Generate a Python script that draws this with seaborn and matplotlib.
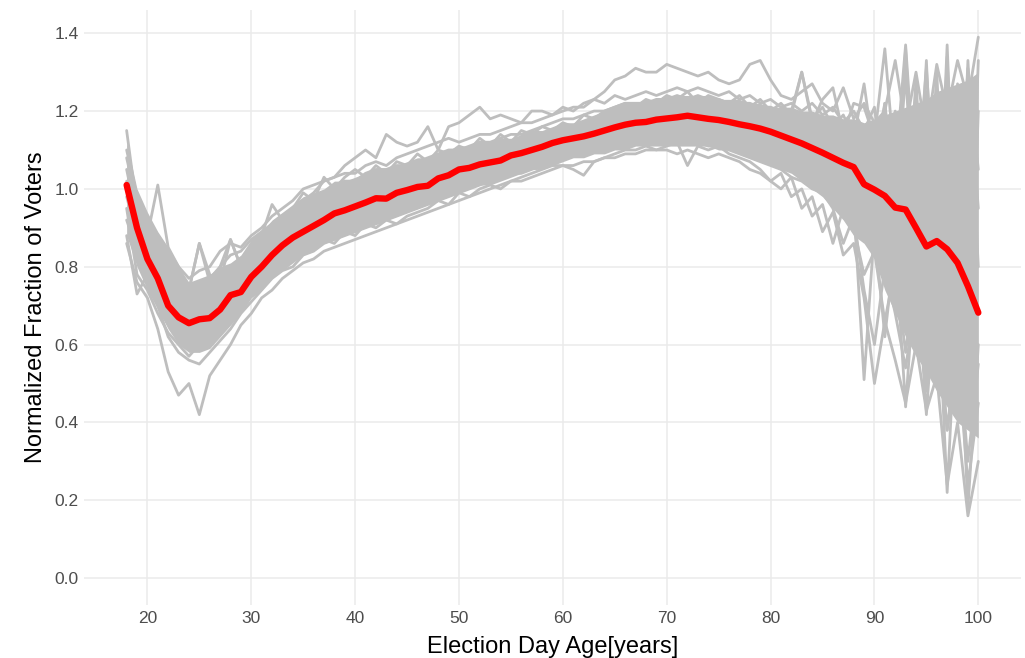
import numpy as np
import pandas as pd
import matplotlib
matplotlib.use("Agg")
import matplotlib.pyplot as plt
import seaborn as sns

ages = list(range(18, 101))

mean_curve = [
    1.01, 0.90, 0.82, 0.77, 0.70, 0.67, 0.655, 0.665, 0.668, 0.69,
    0.727, 0.735, 0.774, 0.80, 0.83, 0.855, 0.875, 0.89, 0.905, 0.92,
    0.937, 0.945, 0.955, 0.965, 0.976, 0.975, 0.99, 0.997, 1.005, 1.008,
    1.027, 1.035, 1.05, 1.054, 1.063, 1.068, 1.073, 1.086, 1.092, 1.10,
    1.108, 1.118, 1.125, 1.13, 1.135, 1.142, 1.15, 1.158, 1.165, 1.17,
    1.172, 1.178, 1.181, 1.184, 1.188, 1.184, 1.18, 1.177, 1.172, 1.166,
    1.161, 1.155, 1.147, 1.137, 1.127, 1.117, 1.105, 1.093, 1.08, 1.067,
    1.056, 1.012, 0.998, 0.982, 0.952, 0.947, 0.90, 0.852, 0.866, 0.845,
    0.81, 0.75, 0.682]

core_hi = [
    1.12, 1.00, 0.94, 0.89, 0.85, 0.80, 0.76, 0.77, 0.78, 0.80,
    0.81, 0.83, 0.87, 0.89, 0.92, 0.94, 0.96, 0.98, 0.99, 1.00,
    1.02, 1.02, 1.03, 1.04, 1.05, 1.05, 1.06, 1.07, 1.08, 1.08,
    1.09, 1.10, 1.11, 1.11, 1.12, 1.12, 1.13, 1.13, 1.14, 1.15,
    1.15, 1.16, 1.17, 1.17, 1.18, 1.19, 1.20, 1.21, 1.22, 1.22,
    1.23, 1.23, 1.24, 1.24, 1.24, 1.24, 1.24, 1.23, 1.23, 1.23,
    1.22, 1.22, 1.21, 1.21, 1.21, 1.20, 1.20, 1.19, 1.19, 1.18,
    1.18, 1.17, 1.18, 1.19, 1.20, 1.21, 1.22, 1.23, 1.25, 1.26,
    1.27, 1.28, 1.30]

core_lo = [
    0.88, 0.80, 0.74, 0.69, 0.64, 0.60, 0.58, 0.58, 0.59, 0.62,
    0.65, 0.68, 0.72, 0.74, 0.77, 0.79, 0.81, 0.83, 0.84, 0.86,
    0.87, 0.88, 0.89, 0.90, 0.91, 0.92, 0.93, 0.94, 0.95, 0.96,
    0.97, 0.98, 0.99, 1.00, 1.01, 1.01, 1.02, 1.03, 1.04, 1.05,
    1.05, 1.06, 1.07, 1.08, 1.08, 1.09, 1.09, 1.10, 1.10, 1.11,
    1.11, 1.11, 1.11, 1.11, 1.11, 1.11, 1.11, 1.10, 1.10, 1.09,
    1.08, 1.07, 1.06, 1.05, 1.04, 1.02, 1.00, 0.98, 0.95, 0.92,
    0.88, 0.86, 0.82, 0.74, 0.68, 0.62, 0.57, 0.53, 0.48, 0.44,
    0.40, 0.38, 0.36]

g1 = [1.15, 0.95, 0.88, 1.01, 0.85, 0.80, 0.74, 0.86, 0.78, 0.76,
      0.87, 0.80, 0.85, 0.88, 0.96, 0.92, 0.95, 0.99, 0.97, 1.03,
      1.00, 1.03, 1.05, 1.03, 1.06, 1.04, 1.07, 1.06, 1.09, 1.07,
      1.10, 1.09, 1.11, 1.10, 1.13, 1.11, 1.14, 1.12, 1.15, 1.14,
      1.16, 1.15, 1.17, 1.16, 1.19, 1.18, 1.20, 1.21, 1.22, 1.21,
      1.23, 1.22, 1.24, 1.23, 1.25, 1.22, 1.24, 1.23, 1.22, 1.24,
      1.21, 1.23, 1.20, 1.22, 1.19, 1.30, 1.18, 1.21, 1.16, 1.19,
      1.13, 1.27, 1.08, 1.22, 0.95, 1.36, 0.88, 1.25, 0.70, 1.34,
      0.62, 1.30, 0.95]
g2 = [1.05, 0.92, 0.86, 0.82, 0.80, 0.76, 0.72, 0.75, 0.77, 0.80,
      0.83, 0.84, 0.87, 0.89, 0.91, 0.93, 0.95, 0.97, 0.99, 1.02,
      1.03, 1.06, 1.08, 1.10, 1.08, 1.14, 1.12, 1.11, 1.12, 1.16,
      1.10, 1.16, 1.17, 1.19, 1.21, 1.18, 1.19, 1.18, 1.17, 1.20,
      1.20, 1.19, 1.21, 1.20, 1.22, 1.23, 1.22, 1.24, 1.23, 1.24,
      1.25, 1.24, 1.25, 1.26, 1.25, 1.26, 1.25, 1.24, 1.25, 1.23,
      1.24, 1.22, 1.23, 1.21, 1.22, 1.20, 1.22, 1.19, 1.21, 1.17,
      1.20, 1.15, 1.21, 0.98, 1.15, 0.88, 1.28, 0.80, 1.18, 0.55,
      1.25, 0.45, 1.20]
g3 = [1.10, 0.98, 0.92, 0.88, 0.84, 0.80, 0.77, 0.79, 0.80, 0.84,
      0.86, 0.85, 0.88, 0.90, 0.93, 0.95, 0.97, 1.00, 1.01, 1.02,
      1.03, 1.04, 1.04, 1.06, 1.07, 1.06, 1.08, 1.09, 1.10, 1.11,
      1.12, 1.13, 1.12, 1.13, 1.14, 1.14, 1.15, 1.16, 1.17, 1.17,
      1.18, 1.19, 1.20, 1.21, 1.21, 1.23, 1.25, 1.28, 1.29, 1.31,
      1.30, 1.30, 1.32, 1.31, 1.30, 1.29, 1.30, 1.28, 1.27, 1.28,
      1.32, 1.33, 1.28, 1.24, 1.23, 1.25, 1.27, 1.22, 1.20, 1.26,
      1.18, 1.22, 1.17, 1.20, 1.33, 1.16, 1.30, 1.14, 1.32, 1.20,
      1.33, 1.23, 1.39]
g4 = [0.88, 0.73, 0.78, 0.72, 0.66, 0.62, 0.60, 0.62, 0.60, 0.63,
      0.66, 0.70, 0.73, 0.75, 0.78, 0.80, 0.82, 0.84, 0.85, 0.87,
      0.86, 0.89, 0.88, 0.91, 0.90, 0.92, 0.91, 0.93, 0.94, 0.95,
      0.97, 0.96, 0.99, 0.98, 1.00, 1.01, 1.00, 1.02, 1.03, 1.04,
      1.05, 1.06, 1.06, 1.05, 1.035, 1.07, 1.08, 1.09, 1.10, 1.10,
      1.11, 1.10, 1.11, 1.12, 1.06, 1.11, 1.10, 1.11, 1.09, 1.08,
      1.07, 1.05, 1.02, 1.04, 0.98, 1.00, 0.93, 0.96, 0.86, 0.95,
      0.90, 0.78, 0.84, 0.66, 0.80, 0.58, 0.78, 0.50, 0.70, 0.38,
      0.62, 0.30, 0.55]
g5 = [0.86, 0.76, 0.72, 0.64, 0.53, 0.47, 0.50, 0.42, 0.52, 0.56,
      0.60, 0.65, 0.68, 0.72, 0.74, 0.77, 0.79, 0.81, 0.82, 0.84,
      0.85, 0.86, 0.87, 0.88, 0.89, 0.90, 0.91, 0.92, 0.93, 0.94,
      0.95, 0.96, 0.97, 0.98, 0.99, 1.00, 1.01, 1.02, 1.02, 1.03,
      1.04, 1.05, 1.06, 1.06, 1.07, 1.07, 1.08, 1.08, 1.09, 1.09,
      1.10, 1.10, 1.10, 1.09, 1.10, 1.09, 1.08, 1.09, 1.08, 1.07,
      1.05, 1.04, 1.02, 1.00, 1.03, 0.95, 0.98, 0.89, 0.94, 0.83,
      0.86, 0.72, 0.50, 0.66, 0.56, 0.45, 0.60, 0.43, 0.52, 0.24,
      0.40, 0.16, 0.30]
g6 = [0.98, 0.88, 0.80, 0.75, 0.68, 0.65, 0.66, 0.70, 0.68, 0.71,
      0.75, 0.76, 0.79, 0.81, 0.84, 0.86, 0.88, 0.90, 0.91, 0.93,
      0.94, 0.95, 0.97, 0.97, 0.99, 0.98, 1.00, 1.01, 1.02, 1.02,
      1.04, 1.04, 1.06, 1.06, 1.07, 1.08, 1.08, 1.10, 1.10, 1.11,
      1.12, 1.12, 1.13, 1.14, 1.14, 1.15, 1.16, 1.17, 1.17, 1.18,
      1.18, 1.19, 1.19, 1.20, 1.20, 1.19, 1.19, 1.19, 1.18, 1.18,
      1.17, 1.17, 1.16, 1.15, 1.14, 1.13, 1.12, 1.11, 1.09, 1.12,
      1.05, 1.14, 1.00, 1.22, 0.92, 1.30, 0.85, 1.33, 0.75, 1.37,
      0.70, 1.33, 0.80]
g7 = [0.92, 0.84, 0.76, 0.70, 0.62, 0.58, 0.56, 0.55, 0.58, 0.61,
      0.64, 0.68, 0.71, 0.74, 0.77, 0.79, 0.80, 0.83, 0.84, 0.86,
      0.87, 0.88, 0.89, 0.90, 0.91, 0.92, 0.93, 0.94, 0.95, 0.96,
      0.97, 0.98, 0.99, 1.00, 1.01, 1.02, 1.03, 1.04, 1.04, 1.05,
      1.06, 1.07, 1.08, 1.09, 1.09, 1.10, 1.10, 1.11, 1.11, 1.12,
      1.12, 1.13, 1.12, 1.13, 1.12, 1.12, 1.11, 1.11, 1.10, 1.09,
      1.08, 1.07, 1.06, 1.05, 1.03, 1.02, 1.00, 0.99, 0.97, 0.93,
      0.96, 0.51, 0.90, 0.62, 0.86, 0.44, 0.82, 0.42, 0.80, 0.22,
      0.75, 0.18, 0.60]
g8 = [1.02, 0.91, 0.84, 0.80, 0.74, 0.70, 0.69, 0.71, 0.72, 0.74,
      0.78, 0.80, 0.83, 0.85, 0.87, 0.89, 0.91, 0.93, 0.95, 0.96,
      0.97, 0.98, 1.00, 1.01, 1.01, 1.03, 1.03, 1.04, 1.05, 1.06,
      1.07, 1.07, 1.08, 1.09, 1.10, 1.10, 1.11, 1.12, 1.12, 1.13,
      1.14, 1.15, 1.15, 1.16, 1.17, 1.17, 1.18, 1.19, 1.20, 1.20,
      1.21, 1.21, 1.22, 1.21, 1.22, 1.22, 1.21, 1.22, 1.21, 1.20,
      1.20, 1.19, 1.19, 1.18, 1.20, 1.30, 1.17, 1.23, 1.26, 1.14,
      1.22, 1.21, 1.13, 1.36, 1.05, 1.37, 0.98, 1.31, 0.90, 1.29,
      0.85, 1.31, 1.05]
g9 = [0.95, 0.78, 0.74, 0.68, 0.63, 0.60, 0.57, 0.60, 0.62, 0.64,
      0.68, 0.70, 0.74, 0.76, 0.79, 0.81, 0.83, 0.85, 0.86, 0.88,
      0.89, 0.90, 0.91, 0.92, 0.93, 0.94, 0.95, 0.96, 0.97, 0.98,
      0.99, 1.00, 1.01, 1.02, 1.03, 1.04, 1.05, 1.05, 1.06, 1.07,
      1.08, 1.09, 1.10, 1.11, 1.12, 1.12, 1.13, 1.13, 1.14, 1.14,
      1.15, 1.15, 1.15, 1.16, 1.16, 1.15, 1.15, 1.14, 1.14, 1.13,
      1.12, 1.11, 1.10, 1.08, 1.07, 1.05, 1.04, 0.99, 0.95, 0.86,
      0.93, 0.74, 0.60, 0.80, 0.68, 0.54, 0.72, 0.48, 0.66, 0.38,
      0.58, 0.24, 0.45]
g10 = [1.08, 0.96, 0.90, 0.85, 0.81, 0.77, 0.74, 0.86, 0.76, 0.80,
       0.87, 0.80, 0.84, 0.87, 0.90, 0.92, 0.94, 0.96, 0.98, 0.99,
       1.01, 1.02, 1.02, 1.04, 1.05, 1.05, 1.06, 1.06, 1.07, 1.08,
       1.09, 1.10, 1.10, 1.11, 1.12, 1.12, 1.13, 1.14, 1.14, 1.15,
       1.16, 1.17, 1.18, 1.18, 1.19, 1.20, 1.20, 1.21, 1.22, 1.22,
       1.22, 1.23, 1.23, 1.24, 1.23, 1.24, 1.23, 1.23, 1.22, 1.22,
       1.22, 1.21, 1.21, 1.20, 1.20, 1.19, 1.19, 1.18, 1.18, 1.17,
       1.17, 1.16, 1.17, 1.05, 1.20, 0.95, 1.25, 0.85, 1.30, 0.72,
       1.27, 0.62, 1.33]

grey_series = {"g1": g1, "g2": g2, "g3": g3, "g4": g4, "g5": g5,
               "g6": g6, "g7": g7, "g8": g8, "g9": g9, "g10": g10}

x_ticks = [20, 30, 40, 50, 60, 70, 80, 90, 100]
y_ticks = [0.0, 0.2, 0.4, 0.6, 0.8, 1.0, 1.2, 1.4]

sns.set_theme(style="whitegrid")
plt.rcParams["font.family"] = ["Liberation Sans", "DejaVu Sans"]

grey_df = pd.concat(
    [pd.DataFrame({"age": ages, "value": v, "series": k}) for k, v in grey_series.items()],
    ignore_index=True)
mean_df = pd.DataFrame({"age": ages, "value": mean_curve})

fig = plt.figure(figsize=(10.25, 6.58), dpi=100)
ax = fig.add_axes([0.082, 0.08, 0.914, 0.905])
ax.set_facecolor("white")

grey = "#BEBEBE"
ax.fill_between(ages, core_lo, core_hi, color=grey, lw=0, zorder=2)
sns.lineplot(data=grey_df, x="age", y="value", units="series", estimator=None,
             color=grey, lw=2.0, ax=ax, zorder=3)
sns.lineplot(data=mean_df, x="age", y="value", color="#FF0000", lw=4.6, ax=ax, zorder=4)

ax.set_xlim(13.9, 104.1)
ax.set_ylim(-0.07, 1.46)
ax.set_xticks(x_ticks)
ax.set_yticks(y_ticks)
ax.set_yticklabels([f"{t:.1f}" for t in y_ticks])
ax.grid(True, color="#EBEBEB", lw=1.1)
for s in ax.spines.values():
    s.set_visible(False)
ax.tick_params(axis="both", length=0, labelsize=12.5, labelcolor="#4D4D4D", pad=4)
ax.set_xlabel("Election Day Age[years]", fontsize=17, color="black", labelpad=7)
ax.set_ylabel("Normalized Fraction of Voters", fontsize=17, color="black", labelpad=5)

fig.savefig("out.png", dpi=100, facecolor="white")
